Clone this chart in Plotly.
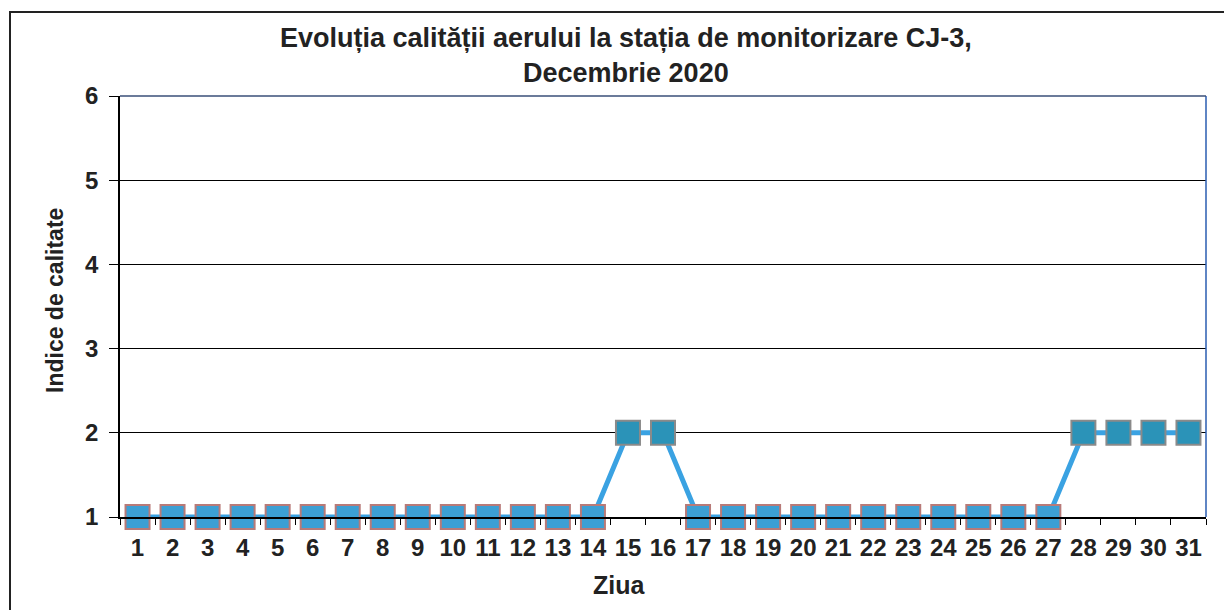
import plotly.graph_objects as go

days = [str(d) for d in range(1, 32)]
index_values = [1, 1, 1, 1, 1, 1, 1, 1, 1, 1, 1, 1, 1, 1, 2, 2, 1, 1, 1, 1, 1, 1, 1, 1, 1, 1, 1, 2, 2, 2, 2]
y_ticks = [1, 2, 3, 4, 5, 6]

title_lines = ["Evoluția calității aerului la stația de monitorizare CJ-3,", "Decembrie 2020"]
x_title = "Ziua"
y_title = "Indice de calitate"

FONT = "Liberation Sans"
OFF = 8  # page offset of the figure inside the html body
W, H = 1224, 602
L, R, T, B = 112, 26, 88, 93
pw, ph = W - L - R, H - T - B

def px_x(page_x):
    return (page_x - OFF - L) / pw

def px_y(page_y):
    return (H - B - (page_y - OFF)) / ph

fill = ["#2b93b8" if v >= 2 else "#3c9fd4" for v in index_values]
outline = ["#8a8a8a" if v >= 2 else "#b87a78" for v in index_values]
TXT = "#222222"

fig = go.Figure()
fig.add_trace(go.Scatter(
    x=days, y=index_values, mode="lines+markers",
    line=dict(color="#3aa2e2", width=5),
    marker=dict(symbol="square", size=24, color=fill,
                line=dict(color=outline, width=2)),
    cliponaxis=False, showlegend=False,
))

fig.update_layout(
    width=W, height=H,
    margin=dict(l=L, r=R, t=T, b=B),
    paper_bgcolor="white", plot_bgcolor="white",
    font=dict(family=FONT, color=TXT),
    xaxis=dict(
        type="category", range=[-0.5, len(days) - 0.5],
        tickson="boundaries", ticks="outside", ticklen=6,
        tickcolor="black", showline=True, linecolor="black", linewidth=1.5,
        showgrid=False, tickangle=0, ticklabelstandoff=8,
        tickfont=dict(size=24, family=FONT, color=TXT, weight="bold"),
    ),
    yaxis=dict(
        range=[1, 6], tickvals=y_ticks, ticks="outside", ticklen=9,
        tickcolor="black", showline=True, linecolor="black", linewidth=1.5,
        showgrid=True, gridcolor="black", gridwidth=1, ticklabelstandoff=6,
        tickfont=dict(size=24, family=FONT, color=TXT, weight="bold"),
        zeroline=False,
    ),
    shapes=[
        dict(type="line", xref="paper", yref="paper", x0=1, x1=1, y0=0, y1=1,
             line=dict(color="#2a5db0", width=1.5)),
        dict(type="line", xref="paper", yref="paper", x0=0, x1=1, y0=1, y1=1,
             line=dict(color="#3a4f78", width=1.5)),
        dict(type="rect", xref="paper", yref="paper",
             x0=px_x(10), x1=px_x(1245), y0=px_y(12), y1=px_y(640),
             line=dict(color="#222222", width=2), layer="below"),
    ],
    annotations=[
        dict(text="<b>" + "<br>".join(title_lines) + "</b>", xref="paper", yref="paper",
             x=px_x(626), y=px_y(56), showarrow=False, xanchor="center", yanchor="middle",
             align="center", font=dict(size=27, family=FONT, color=TXT)),
        dict(text="<b>" + x_title + "</b>", xref="paper", yref="paper",
             x=px_x(619), y=px_y(585), showarrow=False, xanchor="center", yanchor="middle",
             font=dict(size=25, family=FONT, color=TXT)),
        dict(text="<b>" + y_title + "</b>", xref="paper", yref="paper",
             x=px_x(55), y=px_y(301), showarrow=False, xanchor="center", yanchor="middle",
             textangle=-90, font=dict(size=23, family=FONT, color=TXT)),
    ],
)

fig.write_html("out.html")
